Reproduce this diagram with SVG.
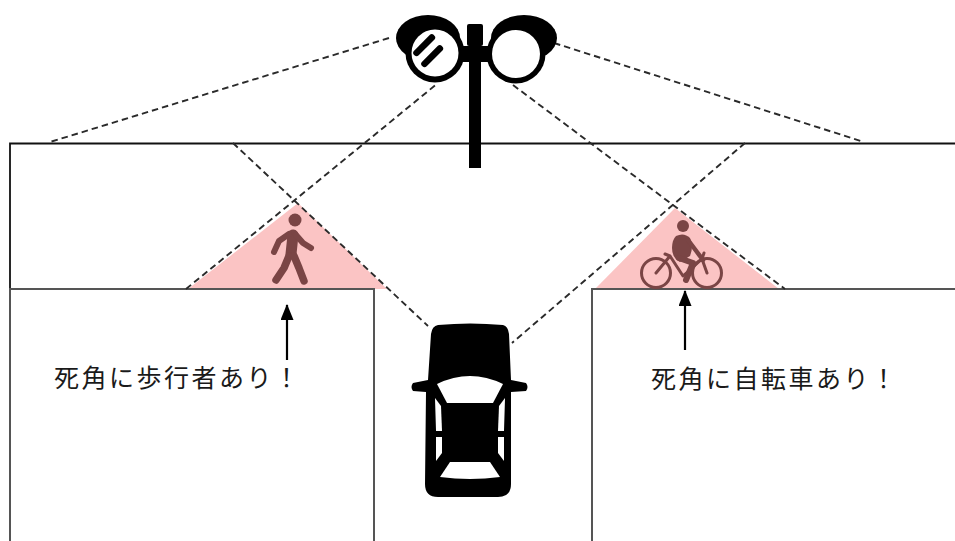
<svg xmlns="http://www.w3.org/2000/svg" width="955" height="541" viewBox="0 0 955 541">
  <style>
    .edge { fill: none; stroke: #111; stroke-width: 1.8; }
    .block { fill: none; stroke: #555; stroke-width: 2; }
    .zone { fill: #fbc4c4; }
    .sight { fill: none; stroke: #2a2a2a; stroke-width: 1.9; stroke-dasharray: 6.5 4; }
    .figure { fill: none; stroke: #7a4545; stroke-linecap: round; stroke-linejoin: round; }
    .ink { fill: #000; }
    .label { font-family: "Noto Sans CJK JP", "Noto Sans", sans-serif; font-size: 25px; letter-spacing: 2.5px; fill: #1a1a1a; }
    .pointer { stroke: #000; stroke-width: 2.2; fill: none; }
  </style>
  <defs>
    <marker id="arrowhead" markerUnits="userSpaceOnUse" markerWidth="16" markerHeight="13" viewBox="0 0 16 13" refX="15" refY="6.5" orient="auto">
      <path d="M0,0 L16,6.5 L0,13 Z" fill="#000"/>
    </marker>
  </defs>

  <rect width="955" height="541" fill="#fff"/>

  <!-- blind-spot zones at the corners -->
  <g id="blind-zones">
    <polygon class="zone" points="188,289 298,203 387,289"/>
    <polygon class="zone" points="595,289 675,208 779,289"/>
  </g>

  <!-- road edges and building blocks -->
  <g id="road">
    <path class="edge" d="M10,289 L10,143.5 L955,143.5"/>
    <path class="block" d="M10,541 L10,289 L374,289 L374,541"/>
    <path class="block" d="M592,541 L592,289 L955,289"/>
  </g>

  <!-- sight lines -->
  <g id="connectors">
    <line class="sight" x1="389" y1="38" x2="50" y2="142"/>
    <line class="sight" x1="554" y1="43" x2="864" y2="142"/>
    <line class="sight" x1="233" y1="143" x2="428" y2="326"/>
    <line class="sight" x1="186" y1="289" x2="438" y2="83"/>
    <line class="sight" x1="513" y1="85" x2="785" y2="289"/>
    <line class="sight" x1="745" y1="143" x2="512" y2="343"/>
    <line class="pointer" x1="287" y1="360" x2="287" y2="305" marker-end="url(#arrowhead)"/>
    <line class="pointer" x1="685" y1="350" x2="685" y2="291" marker-end="url(#arrowhead)"/>
  </g>

  <!-- pedestrian -->
  <g id="pedestrian">
    <circle cx="295" cy="220" r="6.5" fill="#7a4545"/>
    <path class="figure" stroke-width="11" d="M293,235 L291,254"/>
    <path class="figure" stroke-width="6" d="M289,234 L279,241 L274,252"/>
    <path class="figure" stroke-width="6" d="M296,235 L303,243 L311,248"/>
    <path class="figure" stroke-width="7.5" d="M289,256 L284,268 L276,280"/>
    <path class="figure" stroke-width="7.5" d="M294,256 L299,268 L304,281"/>
  </g>

  <!-- cyclist -->
  <g id="cyclist">
    <circle cx="683" cy="226" r="6" fill="#7a4545"/>
    <path fill="#7a4545" d="M676,236 Q684,232 690,238 Q694,246 690,256 L680,262 Q672,258 672,248 Q672,240 676,236 Z"/>
    <path class="figure" stroke-width="4.5" d="M688,240 L697,252 L703,260"/>
    <path class="figure" stroke-width="6" d="M679,258 L693,263 L686,280"/>
    <circle class="figure" stroke-width="3" cx="656" cy="273" r="14.5"/>
    <circle class="figure" stroke-width="3" cx="707" cy="273" r="14.5"/>
    <path class="figure" stroke-width="3" d="M656,273 L670,256 L683,276 L702,259 L707,273 M670,256 L665,254 M702,259 L704,253"/>
  </g>

  <!-- convex road mirror on its pole -->
  <g id="mirror">
    <rect class="ink" x="469" y="25" width="12" height="143"/>
    <rect class="ink" x="467" y="24" width="16" height="22" rx="2"/>
    <rect class="ink" x="457" y="46" width="36" height="16" rx="3"/>
    <ellipse class="ink" cx="428" cy="38" rx="32" ry="23"/>
    <circle class="ink" cx="435" cy="53" r="29.5"/>
    <circle cx="435" cy="53" r="23.5" fill="#fff"/>
    <rect class="ink" x="410" y="42" width="28" height="6.5" rx="3" transform="rotate(-45 424 45)"/>
    <rect class="ink" x="418" y="53" width="28" height="6.5" rx="3" transform="rotate(-45 432 56)"/>
    <ellipse class="ink" cx="524" cy="38" rx="33" ry="23"/>
    <circle class="ink" cx="516" cy="54" r="29.5"/>
    <circle cx="516" cy="54" r="24" fill="#fff"/>
  </g>

  <!-- car seen from above -->
  <g id="car">
    <path class="ink" d="M438,325 Q470,322 503,325 Q508,326 509,334 L511,380 L526,383 Q529,387 526,391 L511,392 L511,484 Q511,497 498,497 L438,497 Q425,497 425,484 L426,392 L413,391 Q410,387 413,383 L428,380 L431,334 Q432,326 438,325 Z"/>
    <path fill="#fff" d="M437,384 Q470,368 503,384 L493,403 L447,403 Z"/>
    <path fill="#fff" d="M435,398 L441,406 L442,431 L436,431 Z"/>
    <path fill="#fff" d="M436,437 L442,437 L442,453 L436,461 Z"/>
    <path fill="#fff" d="M505,398 L499,406 L498,431 L504,431 Z"/>
    <path fill="#fff" d="M504,437 L498,437 L498,453 L504,461 Z"/>
    <path fill="#fff" d="M450,462 L490,462 L500,477 Q470,481 440,477 Z"/>
  </g>

  <!-- warning labels -->
  <g id="labels">
    <text class="label" x="54" y="387">死角に歩行者あり！</text>
    <text class="label" x="651" y="388">死角に自転車あり！</text>
  </g>
</svg>
